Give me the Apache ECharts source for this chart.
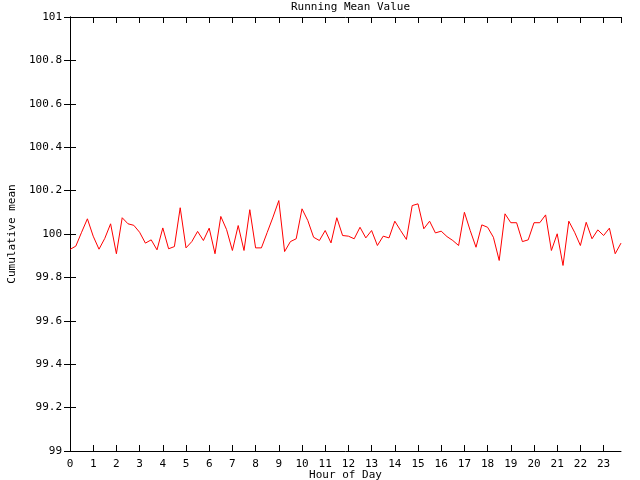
<!DOCTYPE html>
<html><head><meta charset="utf-8">
<script src="https://cdn.jsdelivr.net/npm/echarts@6/dist/echarts.min.js"></script>
<style>html,body{margin:0;padding:0;background:#fff}#c{width:640px;height:480px}</style>
</head><body><div id="c"></div>
<script>
const hours = [];
for (let i = 0; i < 96; i++) hours.push(i * 0.25);
const meanValues = [
 99.929, 99.944, 100.008, 100.070, 99.990, 99.930, 99.980, 100.047,
 99.909, 100.075, 100.047, 100.040, 100.008, 99.958, 99.973, 99.927,
 100.028, 99.932, 99.942, 100.121, 99.936, 99.965, 100.012, 99.970,
 100.027, 99.909, 100.081, 100.020, 99.924, 100.039, 99.924, 100.112,
 99.936, 99.936, 100.007, 100.078, 100.154, 99.919, 99.965, 99.978,
 100.116, 100.062, 99.985, 99.970, 100.016, 99.959, 100.075, 99.993,
 99.990, 99.978, 100.031, 99.982, 100.016, 99.947, 99.990, 99.982,
 100.059, 100.016, 99.975, 100.131, 100.139, 100.024, 100.059, 100.005,
 100.013, 99.988, 99.970, 99.947, 100.100, 100.016, 99.939, 100.042,
 100.031, 99.985, 99.878, 100.093, 100.052, 100.052, 99.965, 99.973,
 100.052, 100.052, 100.088, 99.924, 100.001, 99.855, 100.059, 100.008,
 99.947, 100.054, 99.978, 100.019, 99.993, 100.027, 99.909, 99.958
];
const xTickLabels = ['0','1','2','3','4','5','6','7','8','9','10','11','12','13','14','15','16','17','18','19','20','21','22','23'];
const yTickLabels = ['99','99.2','99.4','99.6','99.8','100','100.2','100.4','100.6','100.8','101'];

const FONT = 'DejaVu Sans Mono';
const FS = 11;
const data = hours.map((h, i) => [h, meanValues[i]]);
const xFmt = v => { const k = xTickLabels.indexOf(String(Math.round(v))); return Math.abs(v - Math.round(v)) < 1e-6 && k >= 0 ? xTickLabels[k] : ''; };
const yFmt = v => { const s = String(+v.toFixed(1)); return yTickLabels.indexOf(s) >= 0 ? s : ''; };
const line = {show: true, lineStyle: {color: '#000', width: 1}};
const tick = {show: true, inside: true, length: 6, lineStyle: {color: '#000', width: 1}};

const chart = echarts.init(document.getElementById('c'), null, {renderer: 'canvas'});
chart.setOption({
  animation: false,
  backgroundColor: '#fff',
  title: {
    text: 'Running Mean Value', left: 345.5, top: -3, textAlign: 'center',
    textStyle: {fontFamily: FONT, fontSize: FS, fontWeight: 'normal', color: '#000'}
  },
  grid: {left: 70, right: 19, top: 17, bottom: 29, containLabel: false, outerBoundsMode: 'none'},
  xAxis: [{
    type: 'value', min: 0, max: 23.75, interval: 1, position: 'bottom',
    name: 'Hour of Day', nameLocation: 'middle', nameGap: 19, nameMoveOverlap: false,
    nameTextStyle: {fontFamily: FONT, fontSize: FS, color: '#000'},
    axisLine: line, axisTick: tick, splitLine: {show: false},
    axisLabel: {formatter: xFmt, fontFamily: FONT, fontSize: FS, color: '#000', margin: 8, showMaxLabel: false}
  }, {
    type: 'value', min: 0, max: 23.75, interval: 1, position: 'top',
    axisLine: line, axisTick: tick, splitLine: {show: false}, axisLabel: {show: false}
  }],
  yAxis: [{
    type: 'value', min: 99, max: 101, interval: 0.2, position: 'left',
    name: 'Cumulative mean', nameLocation: 'middle', nameGap: 52, nameRotate: 90, nameMoveOverlap: false,
    nameTextStyle: {fontFamily: FONT, fontSize: FS, color: '#000'},
    axisLine: line, axisTick: tick, splitLine: {show: false},
    axisLabel: {formatter: yFmt, fontFamily: FONT, fontSize: FS, color: '#000', margin: 8}
  }, {
    type: 'value', min: 99, max: 101, interval: 0.2, position: 'right',
    axisLine: line, axisTick: tick, splitLine: {show: false}, axisLabel: {show: false}
  }],
  series: [{
    type: 'line', data: data, xAxisIndex: 0, yAxisIndex: 0,
    showSymbol: false, symbol: 'none',
    lineStyle: {color: '#ff0000', width: 1}
  }]
});
</script></body></html>
